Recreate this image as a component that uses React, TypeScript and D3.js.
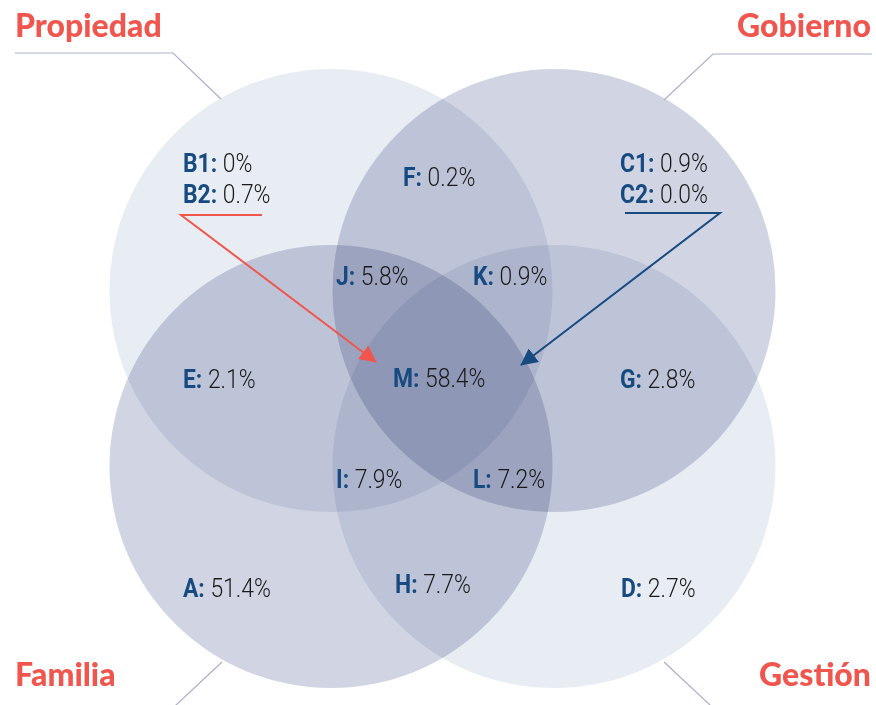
import React, { useEffect, useRef } from 'react';
import * as d3 from 'd3';

// sets, in drawing order
const setNames = ['Propiedad', 'Gobierno', 'Familia', 'Gestión'];
const setFills = ['#e8ecf3', '#d1d4e2', '#d1d4e2', '#e8ecf3'];

// region labels and shares
const regionKeys = ['B1', 'B2', 'F', 'C1', 'C2', 'J', 'K', 'E', 'M', 'G', 'I', 'L', 'A', 'H', 'D'];
const regionValues = ['0%', '0.7%', '0.2%', '0.9%', '0.0%', '5.8%', '0.9%', '2.1%', '58.4%', '2.8%', '7.9%', '7.2%', '51.4%', '7.7%', '2.7%'];

const RED = '#f0564e';
const BLUE = '#174a80';
const LEADER = '#aab0cc';

// layout in a 0..1 venn space
const circleCenters: [number, number][] = [[0, 0], [1, 0], [0, 1], [1, 1]];
const labelPos: Record<string, [number, number]> = {
  B1: [183, 172], B2: [183, 203], F: [403, 186], C1: [620, 172], C2: [620, 203],
  J: [336, 285], K: [473, 285], E: [183, 388], M: [393, 387], G: [620, 388],
  I: [336, 488], L: [473, 488], A: [183, 597], H: [395, 593], D: [621, 597],
};

export default function App() {
  const svgRef = useRef<SVGSVGElement>(null);

  useEffect(() => {
    const svg = d3.select(svgRef.current);
    svg.selectAll('*').remove();

    const x = d3.scaleLinear().domain([0, 1]).range([331, 554]);
    const y = d3.scaleLinear().domain([0, 1]).range([290.5, 466.5]);
    const r = 221.5;

    const defs = svg.append('defs');
    [['arrRed', RED], ['arrBlue', BLUE]].forEach(([id, c]) => {
      defs.append('marker')
        .attr('id', id)
        .attr('viewBox', '0 0 10 10')
        .attr('refX', 9.5).attr('refY', 5)
        .attr('markerWidth', 8.5).attr('markerHeight', 8.5)
        .attr('markerUnits', 'strokeWidth')
        .attr('orient', 'auto')
        .append('path')
        .attr('d', 'M0,0 L10,5 L0,10 Z')
        .attr('fill', c);
    });

    // circles, multiplied so overlaps darken
    svg.append('g')
      .selectAll('circle')
      .data(setNames)
      .join('circle')
      .attr('cx', (_, i) => x(circleCenters[i][0]))
      .attr('cy', (_, i) => y(circleCenters[i][1]))
      .attr('r', r)
      .attr('fill', (_, i) => setFills[i])
      .style('mix-blend-mode', 'multiply');

    // leader lines from set titles
    const leaders: [number, number][][] = [
      [[15, 53], [173, 53], [221, 99]],
      [[872, 54], [713, 54], [664, 100]],
      [[222, 662], [160, 720]],
      [[664, 662], [726, 720]],
    ];
    const line = d3.line();
    svg.append('g')
      .selectAll('path')
      .data(leaders)
      .join('path')
      .attr('d', d => line(d))
      .attr('fill', 'none')
      .attr('stroke', LEADER)
      .attr('stroke-width', 1.2);

    // set titles
    const titlePos: [number, number, string][] = [
      [15, 37, 'start'], [871, 37, 'end'], [15, 686, 'start'], [871, 686, 'end'],
    ];
    svg.append('g')
      .selectAll('text')
      .data(setNames)
      .join('text')
      .attr('x', (_, i) => titlePos[i][0])
      .attr('y', (_, i) => titlePos[i][1])
      .attr('text-anchor', (_, i) => titlePos[i][2])
      .attr('fill', RED)
      .style('font-family', 'Lato, "Open Sans", sans-serif')
      .style('font-weight', 900)
      .style('font-size', '32px')
      .text(d => d);

    // pointer lines for B and C
    svg.append('path')
      .attr('d', line([[262, 215], [181, 215], [376, 362]]))
      .attr('fill', 'none')
      .attr('stroke', RED)
      .attr('stroke-width', 2)
      .attr('marker-end', 'url(#arrRed)');
    svg.append('path')
      .attr('d', line([[625, 213], [720, 213], [521, 365]]))
      .attr('fill', 'none')
      .attr('stroke', BLUE)
      .attr('stroke-width', 2)
      .attr('marker-end', 'url(#arrBlue)');

    // region labels
    const labels = svg.append('g')
      .selectAll('text')
      .data(regionKeys)
      .join('text')
      .attr('transform', d => `translate(${labelPos[d][0]},${labelPos[d][1]}) scale(0.88,1)`)
      .style('font-family', 'Roboto, "Noto Sans", sans-serif')
      .style('font-size', '26px');
    labels.append('tspan')
      .attr('fill', BLUE)
      .style('font-weight', 700)
      .text(d => `${d}:`);
    labels.append('tspan')
      .attr('fill', '#1a1a1a')
      .style('font-weight', 300)
      .text((_, i) => ` ${regionValues[i]}`);
  }, []);

  return (
    <svg ref={svgRef} width={876} height={705}
      style={{ position: 'absolute', left: 0, top: 0, background: '#fff' }} />
  );
}
